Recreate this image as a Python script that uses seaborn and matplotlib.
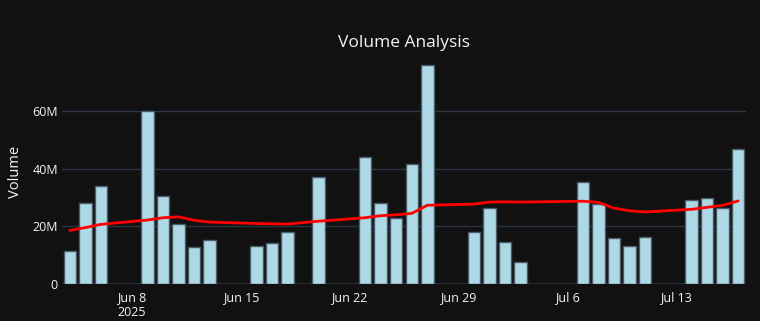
import numpy as np
import pandas as pd
import matplotlib
matplotlib.use('Agg')
import matplotlib.pyplot as plt
import matplotlib.dates as mdates
import seaborn as sns

# trading days shown (weekends and Jun 19 / Jul 4 missing)
dates = ['2025-06-04', '2025-06-05', '2025-06-06',
         '2025-06-09', '2025-06-10', '2025-06-11', '2025-06-12', '2025-06-13',
         '2025-06-16', '2025-06-17', '2025-06-18', '2025-06-20',
         '2025-06-23', '2025-06-24', '2025-06-25', '2025-06-26', '2025-06-27',
         '2025-06-30', '2025-07-01', '2025-07-02', '2025-07-03',
         '2025-07-07', '2025-07-08', '2025-07-09', '2025-07-10', '2025-07-11',
         '2025-07-14', '2025-07-15', '2025-07-16', '2025-07-17']

# volume in millions
volume = [11.4, 28.1, 33.9,
          60.0, 30.6, 21.0, 12.8, 15.4,
          13.3, 14.2, 18.1, 36.9,
          43.9, 28.1, 22.8, 41.4, 75.6,
          18.1, 26.5, 14.6, 7.7,
          35.4, 27.6, 16.1, 13.4, 16.2,
          29.0, 29.9, 26.5, 46.6]

# moving average line (millions)
vol_ma = [18.6, 19.6, 20.7,
          22.2, 23.0, 23.3, 22.1, 21.5,
          21.0, 20.9, 20.8, 21.8,
          23.0, 23.7, 24.0, 24.5, 27.3,
          27.7, 28.4, 28.5, 28.4,
          28.7, 28.3, 26.3, 25.4, 25.0,
          25.9, 26.6, 27.3, 28.8]

tick_dates = ['2025-06-08', '2025-06-15', '2025-06-22', '2025-06-29', '2025-07-06', '2025-07-13']
tick_labels = ['Jun 8\n2025', 'Jun 15', 'Jun 22', 'Jun 29', 'Jul 6', 'Jul 13']

bg = '#111111'
grid = '#283442'
fg = '#f2f5fa'

df = pd.DataFrame({
    'day': mdates.date2num(pd.to_datetime(dates)),
    'volume': np.array(volume) * 1e6,
    'ma': np.array(vol_ma) * 1e6,
})

sns.set_style('dark')
plt.rcParams['font.family'] = ['Open Sans', 'DejaVu Sans']

fig = plt.figure(figsize=(7.6, 3.21), dpi=100, facecolor=bg)
ax = fig.add_axes([0.0816, 0.1143, 0.9, 0.699])
ax.set_facecolor(bg)

sns.barplot(data=df, x='day', y='volume', native_scale=True, width=0.8,
            color='#add8e6', saturation=1, edgecolor='#4a5a66', linewidth=1,
            ax=ax, zorder=2)
sns.lineplot(data=df, x='day', y='ma', color='red', linewidth=2, ax=ax, zorder=3)

ax.set_xlim(mdates.date2num(pd.Timestamp('2025-06-03 12:00')),
            mdates.date2num(pd.Timestamp('2025-07-17 12:00')))
ax.set_ylim(0, 77.5e6)

ax.set_xticks(mdates.date2num(pd.to_datetime(tick_dates)))
ax.set_xticklabels(tick_labels)
ax.set_yticks([0, 20e6, 40e6, 60e6])
ax.set_yticklabels(['0', '20M', '40M', '60M'])
ax.tick_params(axis='both', length=0, colors=fg, labelsize=9)
ax.tick_params(axis='x', pad=5)
ax.tick_params(axis='y', pad=3)

ax.grid(axis='y', color=grid, linewidth=1)
ax.grid(axis='x', visible=False)
ax.axhline(0, color=grid, linewidth=2, zorder=1)
for s in ax.spines.values():
    s.set_visible(False)

ax.set_xlabel('')
ax.set_ylabel('Volume', color=fg, fontsize=10.5, labelpad=7)
fig.text(0.532, 0.866, 'Volume Analysis', color=fg, fontsize=12.5, ha='center', va='center')

fig.savefig('out.png', dpi=100, facecolor=bg)
